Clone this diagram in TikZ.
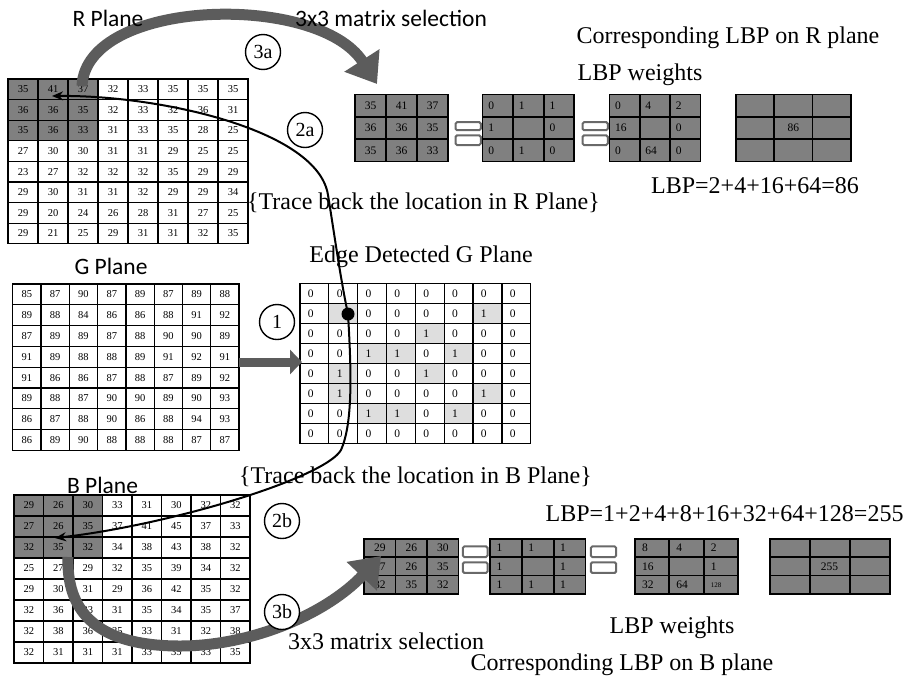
\documentclass[tikz,border=0pt]{standalone}
\usepackage{fontspec}
\setmainfont{Liberation Serif}
\newfontfamily\sansc{Carlito}
\usetikzlibrary{arrows.meta}
\definecolor{mgray}{RGB}{128,128,128}
\definecolor{agray}{RGB}{92,92,92}
\definecolor{lgray}{RGB}{222,222,222}
\definecolor{eqgray}{RGB}{105,105,105}
\newcommand{\myfs}[1]{\fontsize{#1}{#1}\selectfont}
% #1 name, #2 x0, #3 y0, #4 cell width, #5 cell height, #6 style, #7 rows
\newcommand{\mygrid}[7]{%
  \foreach \rowlist [count=\ri from 0] in {#7} {%
    \foreach \val [count=\ci from 0] in \rowlist {%
      \node[#6, minimum width=#4pt, minimum height=#5pt] (#1-\ri-\ci) at ({#2+#4*(\ci+0.5)},{#3+#5*(\ri+0.5)}) {\val};
    }%
  }%
}
\begin{document}
\begin{tikzpicture}[x=1pt,y=-1pt,
  cell/.style={draw, line width=1.3pt, inner sep=0pt, outer sep=0pt},
  gcell/.style={cell, font=\myfs{10.5}},
  ecell/.style={cell, font=\myfs{11.5}, text width=13pt, align=left},
  mcell/.style={cell, fill=mgray, line width=1.8pt, font=\myfs{11.5}},
  lmcell/.style={mcell, text width=#1, align=left},
  eqbar/.style={draw=eqgray, line width=2pt, fill=white, rounded corners=1.5pt},
  bigarrow/.style={line width=11pt, draw=agray, -{Triangle[length=28pt,width=40pt]}},
  flatarrow/.style={line width=9pt, draw=agray, -{Triangle[length=12pt,width=24pt]}},
  trace/.style={line width=2pt, draw=black, -{Stealth[length=11pt,width=9pt]}},
  circ/.style={circle, draw, line width=1.4pt, minimum size=35pt, inner sep=0pt, fill=white, font=\myfs{20}},
  serifl/.style={font=\myfs{24}, inner sep=0pt},
  sansl/.style={font=\sansc\myfs{23.5}, inner sep=0pt}
]
\useasboundingbox (0,0) rectangle (904,675);
\fill[white] (0,0) rectangle (904,675);

% ---------- R plane ----------
\fill[mgray] (8,79) rectangle (98,140.8);
\mygrid{R}{8}{79}{30}{20.6}{gcell}{
 {35,41,37,32,33,35,35,35},
 {36,36,35,32,33,32,36,31},
 {35,36,33,31,33,35,28,25},
 {27,30,30,31,31,29,25,25},
 {23,27,32,32,32,35,29,29},
 {29,30,31,31,32,29,29,34},
 {29,20,24,26,28,31,27,25},
 {29,21,25,29,31,31,32,35}}

% ---------- G plane ----------
\mygrid{G}{12.7}{284}{28.3}{20.8}{gcell}{
 {85,87,90,87,89,87,89,88},
 {89,88,84,86,86,88,91,92},
 {87,89,89,87,88,90,90,89},
 {91,89,88,88,89,91,92,91},
 {91,86,86,87,88,87,89,92},
 {89,88,87,90,90,89,90,93},
 {86,87,88,90,86,88,94,93},
 {86,89,90,88,88,88,87,87}}

% ---------- B plane ----------
\fill[mgray] (14,495) rectangle (102.5,558);
\mygrid{B}{14}{495}{29.5}{21}{gcell}{
 {29,26,30,33,31,30,32,32},
 {27,26,35,37,41,45,37,33},
 {32,35,32,34,38,43,38,32},
 {25,27,29,32,35,39,34,32},
 {29,30,31,29,36,42,35,32},
 {32,36,33,31,35,34,35,37},
 {32,38,36,35,33,31,32,38},
 {32,31,31,31,33,35,33,35}}

% ---------- Edge detected G plane ----------
\foreach \ri/\ci in {1/1,1/6,2/4,3/2,3/3,3/5,4/1,4/4,5/1,5/6,6/2,6/3,6/5}
  \fill[lgray] ({300+28.84*\ci},{283.3+20*\ri}) rectangle +(28.84,20);
\mygrid{E}{300}{283.3}{28.84}{20}{ecell}{
 {0,0,0,0,0,0,0,0},
 {0,{},0,0,0,0,1,0},
 {0,0,0,0,1,0,0,0},
 {0,0,1,1,0,1,0,0},
 {0,1,0,0,1,0,0,0},
 {0,1,0,0,0,0,1,0},
 {0,0,1,1,0,1,0,0},
 {0,0,0,0,0,0,0,0}}

% ---------- top right matrices ----------
\mygrid{TA}{355}{94.5}{31}{22.3}{mcell}{{35,41,37},{36,36,35},{35,36,33}}
\draw[eqbar] (455.5,122.2) rectangle (480.8,130.2);
\draw[eqbar] (455.5,135.4) rectangle (480.8,145);
\mygrid{TB}{482.5}{94.5}{30.6}{22.3}{lmcell=19pt}{{0,1,1},{1,{},0},{0,1,0}}
\draw[eqbar] (582.5,122.2) rectangle (607.8,130.2);
\draw[eqbar] (582.5,135.4) rectangle (607.8,145);
\mygrid{TC}{609.5}{94.5}{30.3}{22.3}{lmcell=19pt}{{0,4,2},{16,{},0},{0,64,0}}
\mygrid{TD}{735.8}{94.5}{38.3}{22.3}{mcell}{{{},{},{}},{{},86,{}},{{},{},{}}}

% ---------- bottom right matrices ----------
\mygrid{BA}{364}{538.7}{31.5}{18.4}{mcell}{{29,26,30},{27,26,35},{32,35,32}}
\draw[eqbar] (462.8,546.4) rectangle (487.5,557);
\draw[eqbar] (462.8,562.3) rectangle (487.5,572.9);
\mygrid{BB}{490.3}{538.7}{31.7}{18.4}{lmcell=19pt}{{1,1,1},{1,{},1},{1,1,1}}
\draw[eqbar] (590.8,546.4) rectangle (616.2,557);
\draw[eqbar] (590.8,562.3) rectangle (616.2,572.9);
\mygrid{BC}{635}{538.7}{34.3}{18.4}{lmcell=20pt}{{8,4,2},{16,{},1},{32,64,{\myfs{7}128}}}
\mygrid{BD}{769.6}{538.7}{40}{18.4}{mcell}{{{},{},{}},{{},255,{}},{{},{},{}}}

% ---------- arrows ----------
\coordinate (a1s) at (239,362);
\coordinate (a1e) at (302,362);
\draw[flatarrow] (a1s) -- (a1e);

\coordinate (a3s) at (82,86);
\coordinate (a3e) at (377,84);
\draw[bigarrow] (a3s) .. controls (86,-2) and (318,-8) .. (a3e);

\coordinate (b3s) at (68,557);
\coordinate (b3m) at (180,646);
\coordinate (b3e) at (381,556);
\draw[bigarrow] (b3s) .. controls (66,622) and (110,646) .. (b3m) .. controls (250,646) and (325,615) .. (b3e);

\node[circle, fill=black, minimum size=13pt, inner sep=0pt] (dot) at (348,314) {};
\coordinate (rmid) at (328,195);
\coordinate (rEnd) at (52,96);
\draw[trace] (dot.center) .. controls (341,282) and (334,232) .. (rmid) .. controls (318,130) and (160,95) .. (rEnd);
\coordinate (bmid) at (341,450);
\coordinate (bEnd) at (55,538);
\draw[trace] (dot.center) .. controls (352,380) and (352,425) .. (bmid) .. controls (325,478) and (170,525) .. (bEnd);

% ---------- circles ----------
\node[circ] (c3a) at (263,52) {3a};
\node[circ] (c2a) at (305,130) {2a};
\node[circ] (c1) at (277,322) {1};
\node[circ] (c2b) at (282,521) {2b};
\node[circ] (c3b) at (282,612) {3b};

% ---------- labels ----------
\node[sansl] (tR) at (108,18) {R Plane};
\node[sansl] (tsel) at (391,18) {3x3 matrix selection};
\node[serifl] (tcorrR) at (728,38) {Corresponding LBP on R plane};
\node[serifl] (twR) at (640,75) {LBP weights};
\node[serifl] (tlbpR) at (755,186) {LBP=2+4+16+64=86};
\node[serifl] (ttraceR) at (423.5,203) {\{Trace back the location in R Plane\}};
\node[serifl] (tedge) at (421,257) {Edge Detected G Plane};
\node[sansl] (tG) at (111,266) {G Plane};
\node[serifl] (ttraceB) at (415.5,477) {\{Trace back the location in B Plane\}};
\node[sansl] (tB) at (102.5,485) {B Plane};
\node[serifl] (tlbpB) at (724.6,514) {LBP=1+2+4+8+16+32+64+128=255};
\node[serifl] (tselB) at (386,641) {3x3 matrix selection};
\node[serifl] (twB) at (672,628) {LBP weights};
\node[serifl] (tcorrB) at (622,665) {Corresponding LBP on B plane};
\end{tikzpicture}
\end{document}
